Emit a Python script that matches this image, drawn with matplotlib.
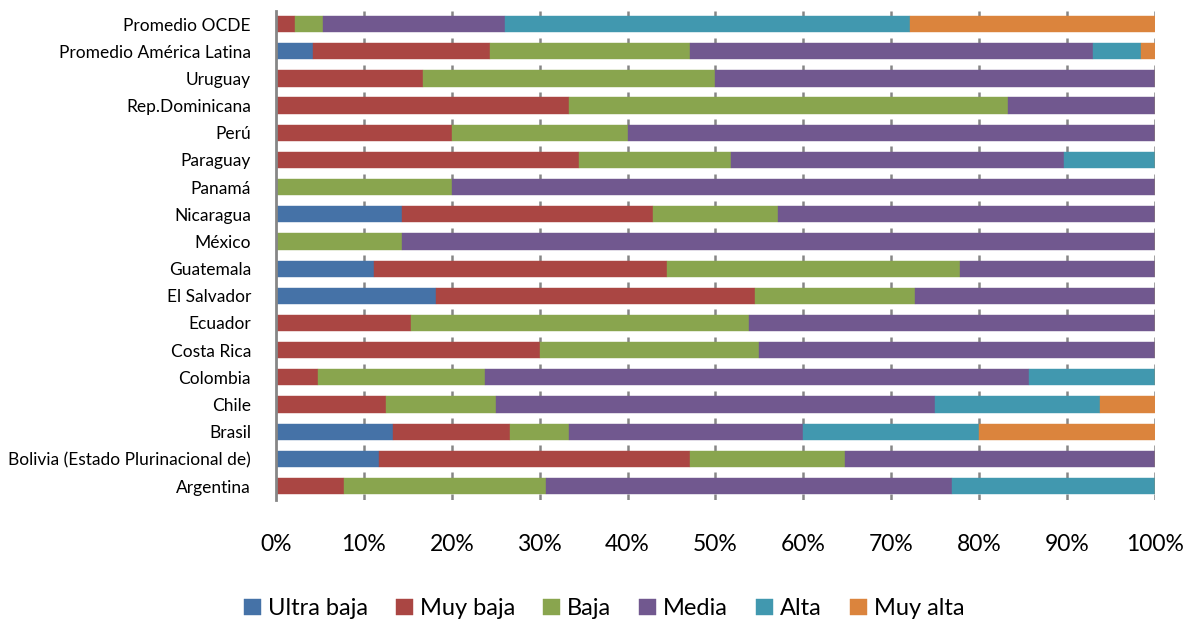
import matplotlib
matplotlib.use("Agg")
import matplotlib.pyplot as plt
import numpy as np
from matplotlib.ticker import PercentFormatter

categories = ["Promedio OCDE", "Promedio América Latina", "Uruguay", "Rep.Dominicana",
              "Perú", "Paraguay", "Panamá", "Nicaragua", "México", "Guatemala",
              "El Salvador", "Ecuador", "Costa Rica", "Colombia", "Chile", "Brasil",
              "Bolivia (Estado Plurinacional de)", "Argentina"]

series_names = ["Ultra baja", "Muy baja", "Baja", "Media", "Alta", "Muy alta"]

ultra_baja = [0, 4.25, 0, 0, 0, 0, 0, 14.29, 0, 11.11, 18.18, 0, 0, 0, 0, 13.33, 11.76, 0]
muy_baja = [2.2, 20.1, 16.67, 33.33, 20.0, 34.48, 0, 28.57, 0, 33.33, 36.36, 15.38, 30.0, 4.76, 12.5, 13.33, 35.29, 7.69]
baja = [3.2, 22.75, 33.33, 50.0, 20.0, 17.24, 20.0, 14.29, 14.29, 33.33, 18.18, 38.46, 25.0, 19.05, 12.5, 6.67, 17.65, 23.08]
media = [20.7, 45.9, 50.0, 16.67, 60.0, 37.93, 80.0, 42.86, 85.71, 22.22, 27.27, 46.15, 45.0, 61.9, 50.0, 26.67, 35.29, 46.15]
alta = [46.0, 5.4, 0, 0, 0, 10.34, 0, 0, 0, 0, 0, 0, 0, 14.29, 18.75, 20.0, 0, 23.08]
muy_alta = [27.9, 1.6, 0, 0, 0, 0, 0, 0, 0, 0, 0, 0, 0, 0, 6.25, 20.0, 0, 0]

colors = ["#4572A7", "#AA4643", "#89A54E", "#71588F", "#4198AF", "#DB843D"]

xticks = [0, 10, 20, 30, 40, 50, 60, 70, 80, 90, 100]

FONT = ["Lato", "DejaVu Sans"]
plt.rcParams['font.family'] = FONT

fig = plt.figure(figsize=(11.87, 6.21), dpi=100)
ax = fig.add_axes([0.2325, 0.1955, 0.7405, 0.7875])

data = [ultra_baja, muy_baja, baja, media, alta, muy_alta]
y = np.arange(len(categories))
left = np.zeros(len(categories))
for vals, name, col in zip(data, series_names, colors):
    v = np.array(vals, dtype=float)
    ax.barh(y, v, left=left, height=0.6, color=col, label=name, zorder=3,
            edgecolor=col, linewidth=0.3)
    left += v

ax.set_ylim(len(categories) - 0.5, -0.5)
ax.set_xlim(0, 100)

# short grey dash marks at top of each category slot (gridline fragments)
slot_tops = y - 0.5
for xv in xticks[1:]:
    ax.vlines([xv] * len(slot_tops), slot_tops, slot_tops + 0.2, colors="#868686",
              linewidth=1.8, zorder=2)
    ax.vlines(xv, len(categories) - 0.7, len(categories) - 0.5, colors="#868686",
              linewidth=1.8, zorder=2)

ax.set_yticks(y)
ax.set_yticklabels(categories, fontsize=12.5, color="#000000")
ax.tick_params(axis="y", length=0, pad=18)

ax.set_xticks(xticks)
ax.xaxis.set_major_formatter(PercentFormatter(decimals=0))
ax.tick_params(axis="x", length=0, pad=25, labelsize=16.5)

for s in ["top", "right", "bottom"]:
    ax.spines[s].set_visible(False)
ax.spines["left"].set_color("#868686")
ax.spines["left"].set_linewidth(2)
ax.spines["left"].set_zorder(4)

leg = fig.legend(loc="center", bbox_to_anchor=(0.509, 0.02), ncol=6, frameon=False,
                 fontsize=17, handlelength=0.7, handleheight=0.7, handletextpad=0.3,
                 columnspacing=1.2, borderaxespad=0)

fig.savefig("out.png", dpi=100)
